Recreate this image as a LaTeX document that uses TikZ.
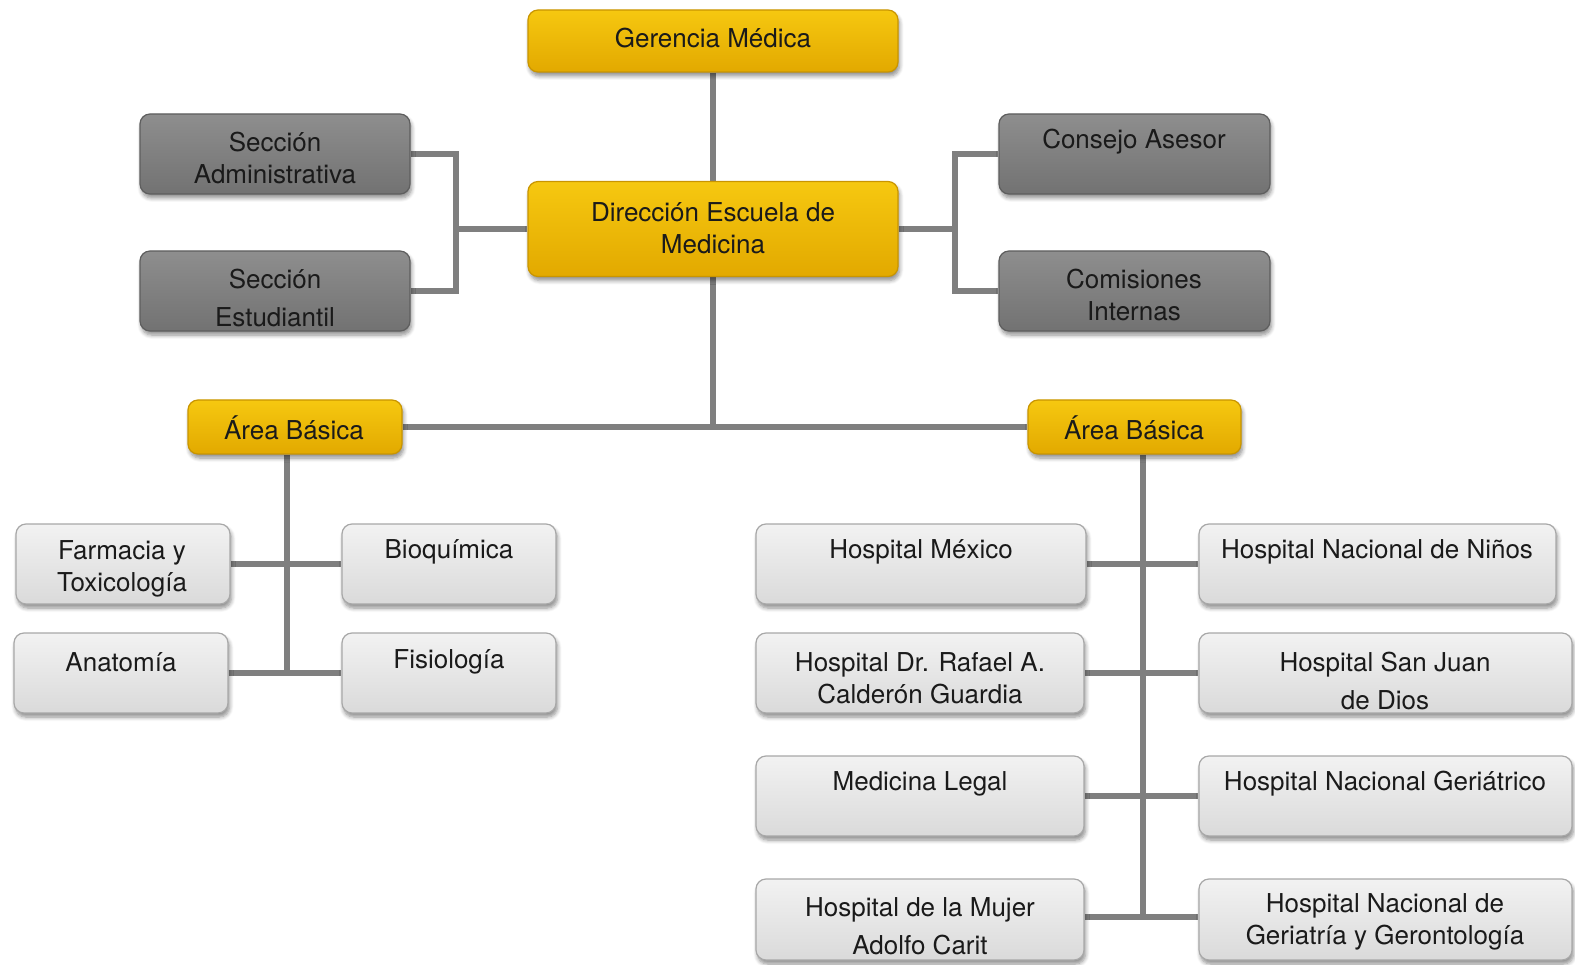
\documentclass[tikz,border=0pt]{standalone}
\usepackage{fontspec}
\setmainfont{TeX Gyre Heros}
\usetikzlibrary{shadows.blur,backgrounds}
\definecolor{goldmid}{HTML}{F0B800}
\definecolor{goldtop}{HTML}{F6C810}
\definecolor{goldbot}{HTML}{E2A900}
\definecolor{goldedge}{HTML}{C99500}
\definecolor{darkmid}{HTML}{7F7F7F}
\definecolor{darktop}{HTML}{8E8E8E}
\definecolor{darkbot}{HTML}{727272}
\definecolor{darkedge}{HTML}{5E5E5E}
\definecolor{lightmid}{HTML}{E6E6E6}
\definecolor{lighttop}{HTML}{F2F2F2}
\definecolor{lightbot}{HTML}{DADADA}
\definecolor{lightedge}{HTML}{A8A8A8}
\definecolor{linkgray}{HTML}{7F7F7F}
\definecolor{ink}{HTML}{1A1A1A}
\begin{document}
\begin{tikzpicture}[x=1pt,y=-1pt,
  base/.style={rounded corners=10pt, line width=1.2pt, inner sep=0pt,
    blur shadow={shadow blur steps=6, shadow xshift=1.5pt, shadow yshift=-4pt,
      shadow blur radius=4pt, shadow opacity=45}},
  goldbox/.style={base, draw=goldedge, top color=goldtop, middle color=goldmid, bottom color=goldbot},
  darkbox/.style={base, draw=darkedge, top color=darktop, middle color=darkmid, bottom color=darkbot},
  lightbox/.style={base, draw=lightedge, top color=lighttop, middle color=lightmid, bottom color=lightbot},
  lbl/.style={font=\fontsize{26}{32}\selectfont, align=center, text=ink, inner sep=0pt},
  link/.style={draw=linkgray, line width=6pt}
]
\useasboundingbox (0,0) rectangle (1575,965);

% top management
\node[goldbox, minimum width=370pt, minimum height=62pt] (ger) at (713,41) {};
\node[goldbox, minimum width=370pt, minimum height=95pt] (dir) at (713,229) {};

% staff units
\node[darkbox, minimum width=270pt, minimum height=80pt] (sadm) at (275,154) {};
\node[darkbox, minimum width=270pt, minimum height=80pt] (sest) at (275,291) {};
\node[darkbox, minimum width=271pt, minimum height=80pt] (cons) at (1134.5,154) {};
\node[darkbox, minimum width=271pt, minimum height=80pt] (comi) at (1134.5,291) {};

% areas
\node[goldbox, minimum width=214pt, minimum height=54pt] (areaL) at (295,427) {};
\node[goldbox, minimum width=213pt, minimum height=54pt] (areaR) at (1134.5,427) {};

% basic departments
\node[lightbox, minimum width=214pt, minimum height=80pt] (farm) at (123,564) {};
\node[lightbox, minimum width=214pt, minimum height=80pt] (bioq) at (449,564) {};
\node[lightbox, minimum width=214pt, minimum height=80pt] (anat) at (121,673) {};
\node[lightbox, minimum width=214pt, minimum height=80pt] (fisi) at (449,673) {};

% hospitals
\node[lightbox, minimum width=330pt, minimum height=80pt] (hmex) at (921,564) {};
\node[lightbox, minimum width=328pt, minimum height=80pt] (hcal) at (920,673) {};
\node[lightbox, minimum width=328pt, minimum height=80pt] (mleg) at (920,796) {};
\node[lightbox, minimum width=328pt, minimum height=81pt] (hmuj) at (920,919.5) {};
\node[lightbox, minimum width=357pt, minimum height=80pt] (hnin) at (1377.5,564) {};
\node[lightbox, minimum width=373pt, minimum height=80pt] (hsjd) at (1385.5,673) {};
\node[lightbox, minimum width=373pt, minimum height=80pt] (hger) at (1385.5,796) {};
\node[lightbox, minimum width=373pt, minimum height=81pt] (hgg) at (1385.5,919.5) {};

% labels
\node[lbl] (tger) at (713,38) {Gerencia Médica};
\node[lbl] (tdir) at (713,228) {Dirección Escuela de\\Medicina};
\node[lbl] (tsadm) at (275,158) {Sección\\Administrativa};
\node[lbl] (tsest) at (275,298) {Sección\\[6pt]Estudiantil};
\node[lbl] (tcons) at (1134,142) {Consejo Asesor};
\node[lbl] (tcomi) at (1134,295) {Comisiones\\Internas};
\node[lbl] (tareaL) at (294,428) {Área Básica};
\node[lbl] (tareaR) at (1134,428) {Área Básica};
\node[lbl] (tfarm) at (122,569) {Farmacia y\\Toxicología};
\node[lbl] (tbioq) at (449,552) {Bioquímica};
\node[lbl] (tanat) at (121,662) {Anatomía};
\node[lbl] (tfisi) at (449,662) {Fisiología};
\node[lbl] (thmex) at (921,552) {Hospital México};
\node[lbl] (thcal) at (920,678) {Hospital Dr. Rafael A.\\Calderón Guardia};
\node[lbl] (tmleg) at (920,784) {Medicina Legal};
\node[lbl] (thmuj) at (920,926) {Hospital de la Mujer\\[6pt]Adolfo Carit};
\node[lbl] (thnin) at (1377,552) {Hospital Nacional de Niños};
\node[lbl] (thsjd) at (1385,681) {Hospital San Juan\\[6pt]de Dios};
\node[lbl] (thger) at (1385,784) {Hospital Nacional Geriátrico};
\node[lbl] (thgg) at (1385,922) {Hospital Nacional de\\Geriatría y Gerontología};

% connectors
\coordinate (jl) at (456,229);
\coordinate (jr) at (955,229);
\coordinate (lt) at (287,673);
\coordinate (rt) at (1143,917);
\begin{pgfonlayer}{background}
  \draw[link] (ger.south) -- (dir.north);
  \draw[link] (dir.west) -- (jl);
  \draw[link] (sadm.east) -| (jl) |- (sest.east);
  \draw[link] (dir.east) -- (jr);
  \draw[link] (cons.west) -| (jr) |- (comi.west);
  \draw[link] (dir.south) -- (dir.south |- areaL.east);
  \draw[link] (areaL.east) -- (areaR.west);
  \draw[link] (areaL.south -| lt) -- (lt);
  \draw[link] (farm.east) -- (bioq.west);
  \draw[link] (anat.east) -- (fisi.west);
  \draw[link] (areaR.south -| rt) -- (rt);
  \draw[link] (hmex.east) -- (hnin.west);
  \draw[link] (hcal.east) -- (hsjd.west);
  \draw[link] (mleg.east) -- (hger.west);
  \draw[link] (hmuj.east |- rt) -- (hgg.west |- rt);
\end{pgfonlayer}
\end{tikzpicture}
\end{document}
